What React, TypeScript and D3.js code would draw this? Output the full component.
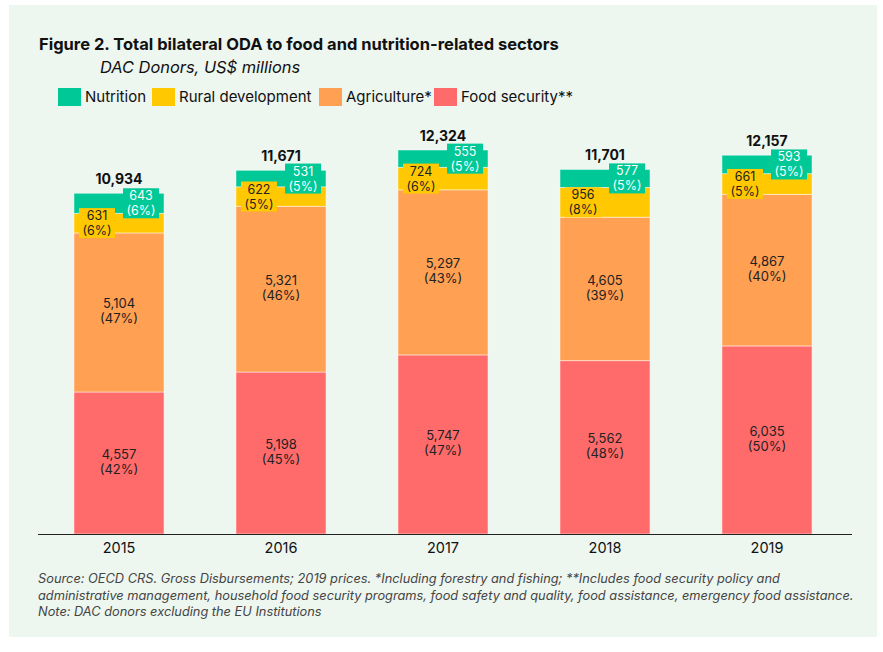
import React from "react";
import * as d3 from "d3";

const years = ["2015", "2016", "2017", "2018", "2019"];
const foodSecurity = [4557, 5198, 5747, 5562, 6035];
const agriculture = [5104, 5321, 5297, 4605, 4867];
const ruralDev = [631, 622, 724, 956, 661];
const nutrition = [643, 531, 555, 577, 593];
const totals = [10934, 11671, 12324, 11701, 12157];
const pctFood = [42, 45, 47, 48, 50];
const pctAgri = [47, 46, 43, 39, 40];
const pctRural = [6, 5, 6, 8, 5];
const pctNut = [6, 5, 5, 5, 5];

const legendItems = ["Nutrition", "Rural development", "Agriculture*", "Food security**"];
const COLORS = { nut: "#00C896", rural: "#FFC800", agri: "#FFA052", food: "#FF6B6B" };

const FONT = "Inter, 'Open Sans', sans-serif";
const fmt = d3.format(",");

export default function App() {
  const W = 883, H = 652;
  const baseY = 534;
  const x = d3.scaleBand<string>().domain(years).range([38, 848]).paddingInner(0.444).paddingOuter(0.222);
  const maxT = d3.max(years.map((_, i) => foodSecurity[i] + agriculture[i] + ruralDev[i] + nutrition[i])) as number;
  const y = d3.scaleLinear().domain([0, maxT]).range([baseY, 150]);
  const bw = x.bandwidth();

  const legendColors = [COLORS.nut, COLORS.rural, COLORS.agri, COLORS.food];
  const legendX = [58, 152, 319, 434];
  const fs = 12.5;

  return (
    <svg width={W} height={H} style={{ position: "absolute", left: 0, top: 0 }} fontFamily={FONT}>
      <rect x={9} y={5} width={868} height={632} fill="#EDF6EF" />
      <text x={39} y={50} fontSize={16.5} fontWeight={700} fill="#111">
        Figure 2. Total bilateral ODA to food and nutrition-related sectors
      </text>
      <text x={100} y={73} fontSize={16.4} fontStyle="italic" fill="#111">
        DAC Donors, US$ millions
      </text>
      {legendItems.map((l, i) => (
        <g key={l}>
          <rect x={legendX[i]} y={88} width={23} height={18} fill={legendColors[i]} />
          <text x={legendX[i] + 27} y={102} fontSize={15} fill="#111">{l}</text>
        </g>
      ))}
      {years.map((yr, i) => {
        const x0 = x(yr) as number;
        const cx = x0 + bw / 2;
        const s0 = 0;
        const s1 = s0 + foodSecurity[i];
        const s2 = s1 + agriculture[i];
        const s3 = s2 + ruralDev[i];
        const s4 = s3 + nutrition[i];
        const segs = [
          { a: s0, b: s1, c: COLORS.food },
          { a: s1, b: s2, c: COLORS.agri },
          { a: s2, b: s3, c: COLORS.rural },
          { a: s3, b: s4, c: COLORS.nut },
        ];
        const midFood = (y(s0) + y(s1)) / 2;
        const midAgri = (y(s1) + y(s2)) / 2;
        const midRural = (y(s2) + y(s3)) / 2;
        const midNut = (y(s3) + y(s4)) / 2;
        const boxW = 36, boxH = 30;
        return (
          <g key={yr}>
            {segs.map((s, k) => (
              <rect key={k} x={x0} y={y(s.b)} width={bw} height={y(s.a) - y(s.b)} fill={s.c} stroke="#ffffff" strokeOpacity={0.6} strokeWidth={0.8} />
            ))}
            <text x={cx} y={midFood - 4} textAnchor="middle" fontSize={fs + 0.5} fill="#222">{fmt(foodSecurity[i])}</text>
            <text x={cx} y={midFood + 11} textAnchor="middle" fontSize={fs + 0.5} fill="#222">({pctFood[i]}%)</text>
            <text x={cx} y={midAgri - 4} textAnchor="middle" fontSize={fs + 0.5} fill="#222">{fmt(agriculture[i])}</text>
            <text x={cx} y={midAgri + 11} textAnchor="middle" fontSize={fs + 0.5} fill="#222">({pctAgri[i]}%)</text>
            <rect x={x0 + 5} y={midRural - boxH / 2} width={boxW} height={boxH} fill={COLORS.rural} />
            <text x={x0 + 5 + boxW / 2} y={midRural - 3} textAnchor="middle" fontSize={fs} fill="#222">{fmt(ruralDev[i])}</text>
            <text x={x0 + 5 + boxW / 2} y={midRural + 12} textAnchor="middle" fontSize={fs} fill="#222">({pctRural[i]}%)</text>
            <rect x={x0 + bw - 5 - boxW} y={midNut - boxH / 2} width={boxW} height={boxH} fill={COLORS.nut} />
            <text x={x0 + bw - 5 - boxW / 2} y={midNut - 3} textAnchor="middle" fontSize={fs} fill="#fff">{fmt(nutrition[i])}</text>
            <text x={x0 + bw - 5 - boxW / 2} y={midNut + 12} textAnchor="middle" fontSize={fs} fill="#fff">({pctNut[i]}%)</text>
            <text x={cx} y={y(s4) - 9} textAnchor="middle" fontSize={14} fontWeight={700} fill="#111">{fmt(totals[i])}</text>
            <text x={cx} y={553} textAnchor="middle" fontSize={14.5} fill="#111">{yr}</text>
          </g>
        );
      })}
      <line x1={38} x2={852} y1={baseY + 0.5} y2={baseY + 0.5} stroke="#222" strokeWidth={1.2} />
      <g fontSize={12.8} fontStyle="italic" fill="#444">
        <text x={38} y={583}>Source: OECD CRS. Gross Disbursements; 2019 prices. *Including forestry and fishing; **Includes food security policy and</text>
        <text x={38} y={600}>administrative management, household food security programs, food safety and quality, food assistance, emergency food assistance.</text>
        <text x={38} y={616}>Note: DAC donors excluding the EU Institutions</text>
      </g>
    </svg>
  );
}
